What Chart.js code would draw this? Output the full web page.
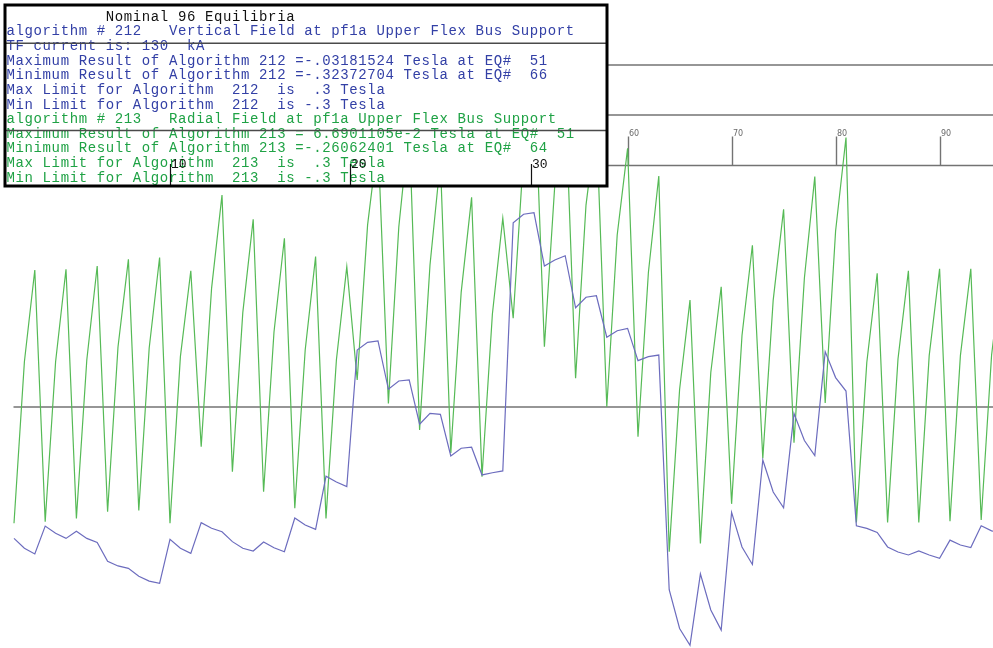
<!DOCTYPE html>
<html>
<head>
<meta charset="utf-8">
<script src="https://cdn.jsdelivr.net/npm/chart.js@4.4.1/dist/chart.umd.min.js"></script>
<style>
  html, body { margin: 0; padding: 0; background: #ffffff; overflow: hidden; }
  #wrap { position: relative; width: 993px; height: 648px; }
</style>
</head>
<body>
<div id="wrap"><canvas id="plot"></canvas></div>
<script>
// Equilibrium numbers (EQ#) 1..96
const eqNumbers = [
  1, 2, 3, 4, 5, 6, 7, 8, 9, 10, 11, 12, 13, 14, 15, 16, 17, 18, 19, 20,
  21, 22, 23, 24, 25, 26, 27, 28, 29, 30, 31, 32, 33, 34, 35, 36, 37, 38, 39, 40,
  41, 42, 43, 44, 45, 46, 47, 48, 49, 50, 51, 52, 53, 54, 55, 56, 57, 58, 59, 60,
  61, 62, 63, 64, 65, 66, 67, 68, 69, 70, 71, 72, 73, 74, 75, 76, 77, 78, 79, 80,
  81, 82, 83, 84, 85, 86, 87, 88, 89, 90, 91, 92, 93, 94, 95, 96
];

// Algorithm 212: vertical field at pf1a upper flex bus support (Tesla)
const vertField212 = [
  -0.2516, -0.2583, -0.2621, -0.2433, -0.2482, -0.2516, -0.2468, -0.2516, -0.2544, -0.2671,
  -0.2702, -0.2718, -0.2772, -0.2804, -0.2819, -0.2522, -0.2583, -0.2617, -0.2410, -0.2448,
  -0.2471, -0.2538, -0.2583, -0.2601, -0.2540, -0.2579, -0.2606, -0.2379, -0.2426, -0.2455,
  -0.2097, -0.2136, -0.2167, -0.1245, -0.1193, -0.1184, -0.1510, -0.1454, -0.1447, -0.1746,
  -0.1672, -0.1679, -0.1960, -0.1908, -0.1901, -0.2088, -0.2073, -0.2061, -0.0386, -0.0329,
  -0.03181524, -0.0678, -0.0638, -0.0609, -0.0960, -0.0889, -0.0879, -0.1159, -0.1115, -0.1099,
  -0.1317, -0.1290, -0.1279, -0.2862, -0.3124, -0.32372704, -0.2756, -0.2999, -0.3135, -0.2340,
  -0.2574, -0.2692, -0.1987, -0.2203, -0.2310, -0.1674, -0.1856, -0.1958, -0.1256, -0.1431,
  -0.1522, -0.2431, -0.2449, -0.2476, -0.2574, -0.2608, -0.2628, -0.2601, -0.2628, -0.2651,
  -0.2528, -0.2561, -0.2578, -0.2431, -0.2465, -0.2480
];

// Algorithm 213: radial field at pf1a upper flex bus support (Tesla)
const radialField213 = [
  -0.2414, -0.1324, -0.0705, -0.2404, -0.1324, -0.0700, -0.2381, -0.1312, -0.0678, -0.2336,
  -0.1225, -0.0633, -0.2328, -0.1231, -0.0621, -0.2414, -0.1290, -0.0710, -0.1897, -0.0827,
  -0.0199, -0.2066, -0.0993, -0.0363, -0.2201, -0.1123, -0.0491, -0.2313, -0.1245, -0.0615,
  -0.2381, -0.1312, -0.0683, -0.1447, -0.0401, 0.0172, -0.1605, -0.0415, 0.0267, -0.1785,
  -0.0671, 0.0030, -0.1940, -0.0854, -0.0215, -0.2100, -0.1002, -0.0356, -0.1031, 0.0078,
  0.066901105, -0.1223, -0.0132, 0.0482, -0.1436, -0.0267, 0.0294, -0.1628, -0.0469, 0.0116,
  -0.1830, -0.0722, -0.0071, -0.26062401, -0.1511, -0.0908, -0.2551, -0.1397, -0.0818, -0.2283,
  -0.1147, -0.0538, -0.1976, -0.0908, -0.0295, -0.1870, -0.0759, -0.0075, -0.1603, -0.0442,
  0.0189, -0.2408, -0.1329, -0.0727, -0.2408, -0.1306, -0.0711, -0.2408, -0.1283, -0.0697,
  -0.2401, -0.1283, -0.0697, -0.2392, -0.1279, -0.0692
];

// Horizontal rules across the plot (Tesla) and the EQ# ticks on the zero axis
const frameLevels = [0.0678, 0.0341, 0, -0.1630];
const axisTickEq = [10, 20, 30, 40, 50, 60, 70, 80, 90];

// Inset frame drawn over the report box: its rules (Tesla) and its ticks
const insetLevels = [0.0825, 0.0236];
const insetTicks = [10, 20, 30];

// Report text
const headerLines = [
  "           Nominal 96 Equilibria",
  "algorithm # 212   Vertical Field at pf1a Upper Flex Bus Support",
  "TF current is: 130  kA",
  "Maximum Result of Algorithm 212 =-.03181524 Tesla at EQ#  51",
  "Minimum Result of Algorithm 212 =-.32372704 Tesla at EQ#  66",
  "Max Limit for Algorithm  212  is  .3 Tesla",
  "Min Limit for Algorithm  212  is -.3 Tesla",
  "algorithm # 213   Radial Field at pf1a Upper Flex Bus Support",
  "Maximum Result of Algorithm 213 = 6.6901105e-2 Tesla at EQ#  51",
  "Minimum Result of Algorithm 213 =-.26062401 Tesla at EQ#  64",
  "Max Limit for Algorithm  213  is  .3 Tesla",
  "Min Limit for Algorithm  213  is -.3 Tesla"
];
const headerGroup = [0, 1, 1, 1, 1, 1, 1, 2, 2, 2, 2, 2];

const BLUE_LINE = 'rgb(108,108,190)';
const GREEN_LINE = 'rgb(86,186,86)';
const TEXT_COLORS = ['#111111', '#3340a6', '#1fa245'];
const RULE = '#737373';

const BOX = { left: 5, top: 5, right: 607, bottom: 186 };

const framePlugin = {
  id: 'framePlugin',
  beforeDatasetsDraw(chart) {
    const { ctx } = chart;
    const xs = chart.scales.x, ys = chart.scales.y;
    const left = xs.getPixelForValue(eqNumbers[0]) - 0.5;
    const right = chart.width;
    ctx.save();
    ctx.strokeStyle = RULE;
    ctx.lineWidth = 1.6;
    frameLevels.forEach(v => {
      const py = ys.getPixelForValue(v);
      ctx.beginPath();
      ctx.moveTo(left, py);
      ctx.lineTo(right, py);
      ctx.stroke();
    });
    // EQ# ticks rising from the zero axis
    const y0 = ys.getPixelForValue(0);
    ctx.lineWidth = 1.4;
    ctx.fillStyle = '#6a6a6a';
    ctx.font = '8px "DejaVu Sans"';
    ctx.textAlign = 'left';
    ctx.textBaseline = 'alphabetic';
    axisTickEq.forEach(t => {
      const px = Math.round(xs.getPixelForValue(t)) + 0.5;
      ctx.beginPath();
      ctx.moveTo(px, y0);
      ctx.lineTo(px, y0 - 29);
      ctx.stroke();
      ctx.fillText(String(t), px + 0.5, y0 - 29.5);
    });
    ctx.restore();
  },
  afterDatasetsDraw(chart) {
    const { ctx } = chart;
    const ys = chart.scales.y, x2 = chart.scales.x2;
    ctx.save();
    // report box
    ctx.fillStyle = '#ffffff';
    ctx.fillRect(BOX.left, BOX.top, BOX.right - BOX.left, BOX.bottom - BOX.top);
    ctx.font = '14px "Liberation Mono"';
    ctx.letterSpacing = '0.62px';
    ctx.textAlign = 'left';
    ctx.textBaseline = 'alphabetic';
    headerLines.forEach((line, i) => {
      ctx.fillStyle = TEXT_COLORS[headerGroup[i]];
      ctx.fillText(line, 6.5, 20.7 + i * 14.64);
    });
    ctx.letterSpacing = '0px';
    // inset frame rules over the text
    ctx.strokeStyle = '#4a4a4a';
    ctx.lineWidth = 1.5;
    insetLevels.forEach(v => {
      const py = ys.getPixelForValue(v);
      ctx.beginPath();
      ctx.moveTo(BOX.left, py);
      ctx.lineTo(BOX.right, py);
      ctx.stroke();
    });
    // inset frame ticks and labels
    ctx.strokeStyle = '#111111';
    ctx.lineWidth = 1.2;
    ctx.fillStyle = '#111111';
    ctx.font = '13px "Liberation Mono"';
    insetTicks.forEach(t => {
      const px = Math.round(x2.getPixelForValue(t)) + 0.5;
      ctx.beginPath();
      ctx.moveTo(px, 164);
      ctx.lineTo(px, BOX.bottom);
      ctx.stroke();
      ctx.fillText(String(t), px + 0.5, 167.5);
    });
    // box border
    ctx.strokeStyle = '#000000';
    ctx.lineWidth = 3;
    ctx.strokeRect(BOX.left, BOX.top, BOX.right - BOX.left, BOX.bottom - BOX.top);
    ctx.restore();
  }
};

const toPoints = vals => eqNumbers.map((eq, i) => ({ x: eq, y: vals[i] }));

new Chart(document.getElementById('plot'), {
  type: 'line',
  data: {
    datasets: [
      {
        label: 'algorithm # 212',
        data: toPoints(vertField212),
        borderColor: BLUE_LINE,
        borderWidth: 1.2,
        pointRadius: 0,
        tension: 0,
        fill: false
      },
      {
        label: 'algorithm # 213',
        data: toPoints(radialField213),
        borderColor: GREEN_LINE,
        borderWidth: 1.2,
        pointRadius: 0,
        tension: 0,
        fill: false
      }
    ]
  },
  options: {
    responsive: true,
    maintainAspectRatio: false,
    animation: false,
    devicePixelRatio: 1,
    layout: { padding: 0 },
    events: [],
    plugins: {
      legend: { display: false },
      title: { display: false },
      tooltip: { enabled: false }
    },
    scales: {
      x: { type: 'linear', min: -0.346, max: 95.135, display: false },
      x2: { type: 'linear', min: 0.622, max: 55.56, display: false },
      y: { type: 'linear', min: -0.32557, max: 0.11167, display: false }
    }
  },
  plugins: [framePlugin]
});
</script>
</body>
</html>
